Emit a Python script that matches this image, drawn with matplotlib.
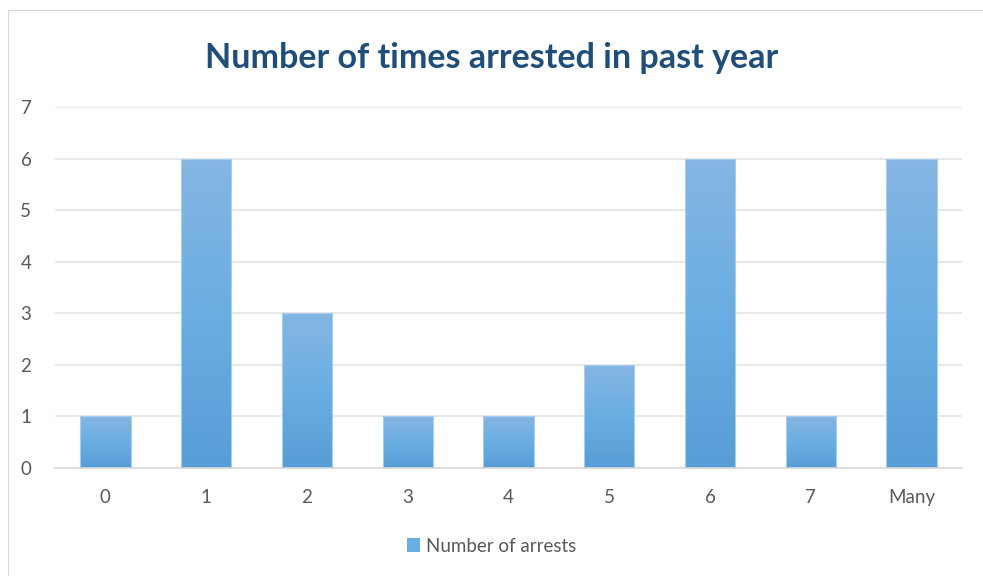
import matplotlib
matplotlib.use("Agg")
import matplotlib.pyplot as plt
import numpy as np
from matplotlib.colors import LinearSegmentedColormap
from matplotlib.patches import Rectangle, Patch

categories = ["0", "1", "2", "3", "4", "5", "6", "7", "Many"]
values = [1, 6, 3, 1, 1, 2, 6, 1, 6]
series_name = "Number of arrests"
title = "Number of times arrested in past year"

plt.rcParams['font.family'] = ['Lato', 'DejaVu Sans']

fig = plt.figure(figsize=(9.83, 5.76), dpi=100)
ax = fig.add_axes([55/983, 1-468/576, 907/983, (468-107)/576])

# chart frame
fig.patches.append(Rectangle((8/983, -0.01), 1.0, 1-10/576+0.01, transform=fig.transFigure,
                             fill=False, edgecolor="#d9d9d9", linewidth=0.8))

x = np.arange(len(categories))
bw = 0.5
cmap = LinearSegmentedColormap.from_list("g", ["#579dd6", "#6aaee3", "#86b6e2"])
bars = ax.bar(x, values, width=bw, color="#6aaee3", label=series_name, zorder=2,
              edgecolor="none")
grad = np.linspace(0, 1, 256).reshape(-1, 1)
for b in bars:
    x0, y0 = b.get_x(), b.get_y()
    w, h = b.get_width(), b.get_height()
    b.set_facecolor("none")
    im = ax.imshow(grad, extent=[x0, x0 + w, y0, y0 + h], origin="lower",
                   cmap=cmap, aspect="auto", zorder=2)
    im.set_clip_path(b)
    ax.add_patch(Rectangle((x0, y0), w, h, fill=False, edgecolor="#a9cdee",
                           linewidth=0.8, zorder=3))

ax.set_xlim(-0.5, len(categories) - 0.5)
ax.set_ylim(0, 7)
ax.set_yticks(range(0, 8))
ax.set_xticks(x)
ax.set_xticklabels(categories)
ax.yaxis.grid(True, color="#e3e3e3", linewidth=1.2, zorder=0)
ax.set_axisbelow(True)
for s in ["top", "right", "left"]:
    ax.spines[s].set_visible(False)
ax.spines["bottom"].set_color("#d9d9d9")
ax.spines["bottom"].set_linewidth(1.2)
ax.tick_params(axis="both", length=0, labelsize=13.5, colors="#595959")
ax.tick_params(axis="y", pad=17)
ax.tick_params(axis="x", pad=15)

fig.text(0.5, 1 - 58/576, title, ha="center", va="center", fontsize=24.5,
         fontweight="bold", color="#1f4e79")

h = [Patch(facecolor="#6aaee3", edgecolor="none")]
fig.legend(h, [series_name], loc="center", bbox_to_anchor=(0.5, 1 - 546/576),
           frameon=False, fontsize=13.5, labelcolor="#595959",
           handlelength=0.7, handleheight=0.7, handletextpad=0.3)

fig.savefig("out.png", dpi=100, facecolor="white")
